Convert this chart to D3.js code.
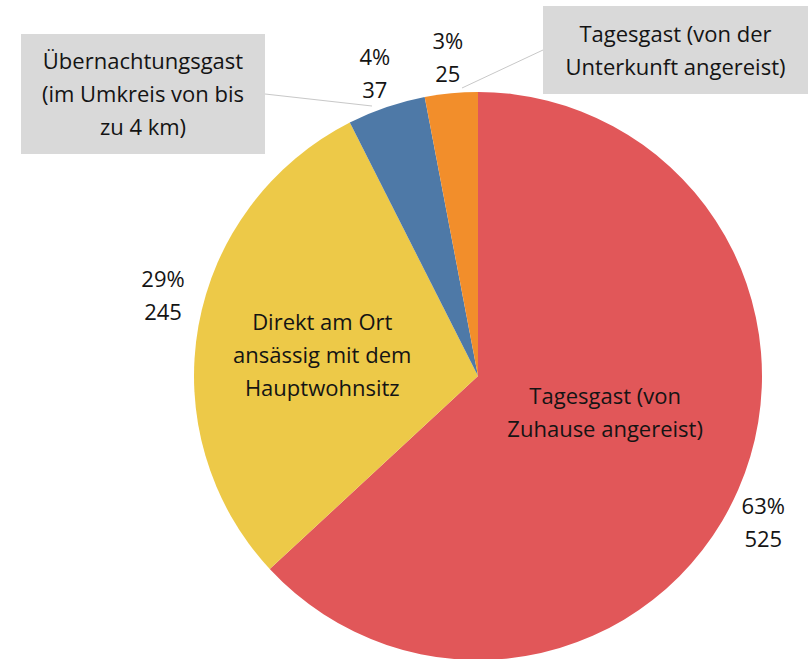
<!DOCTYPE html>
<html>
<head>
<meta charset="utf-8">
<script src="https://cdn.jsdelivr.net/npm/d3@7"></script>
<style>
  body { margin: 0; background: #fff; }
  text { font-family: "Open Sans", "Noto Sans", sans-serif; font-size: 22px; fill: #141414; }
</style>
</head>
<body>
<div id="chart"></div>
<script>
// slices, clockwise from 12 o'clock
const categories = [
  "Tagesgast (von Zuhause angereist)",
  "Direkt am Ort ansässig mit dem Hauptwohnsitz",
  "Übernachtungsgast (im Umkreis von bis zu 4 km)",
  "Tagesgast (von der Unterkunft angereist)"
];
const values = [525, 245, 37, 25];
const colors = ["#e15759", "#edc948", "#4e79a7", "#f28e2b"];
// how the category name is broken into lines
const nameLines = [
  ["Tagesgast (von", "Zuhause angereist)"],
  ["Direkt am Ort", "ansässig mit dem", "Hauptwohnsitz"],
  ["Übernachtungsgast", "(im Umkreis von bis", "zu 4 km)"],
  ["Tagesgast (von der", "Unterkunft angereist)"]
];

const width = 808, height = 659;
const cx = 478, cy = 376, radius = 284;
const lineH = 33;

const svg = d3.select("#chart").append("svg")
    .attr("width", width)
    .attr("height", height);

const total = d3.sum(values);
const pie = d3.pie().sort(null).value(d => d);
const arcs = pie(values);

const arc = d3.arc().innerRadius(0).outerRadius(radius);
const innerArc = d3.arc().innerRadius(radius * 0.5).outerRadius(radius * 0.5);
const outerArc = d3.arc().innerRadius(radius + 36).outerRadius(radius + 36);

const g = svg.append("g").attr("transform", `translate(${cx},${cy})`);

g.selectAll("path.slice")
  .data(arcs)
  .enter()
  .append("path")
  .attr("class", "slice")
  .attr("d", arc)
  .attr("fill", (d, i) => colors[i]);

// percent + count outside
const pct = d3.format(".0%");
// small nudges like tableau does
const nudge = [[-8, 18], [0, -24], [0, 0], [0, 0]];
arcs.forEach((d, i) => {
  const [x, y] = outerArc.centroid(d);
  const t = g.append("text")
    .attr("text-anchor", "middle")
    .attr("y", y + nudge[i][1] - lineH / 2 + 8);
  t.append("tspan").attr("x", x + nudge[i][0]).text(pct(values[i] / total));
  t.append("tspan").attr("x", x + nudge[i][0]).attr("dy", lineH).text(values[i]);
});

// names inside the two big slices
const innerNudge = [[-3, -20], [-16, 4]];
[0, 1].forEach(i => {
  let [x, y] = innerArc.centroid(arcs[i]);
  x += innerNudge[i][0];
  y += innerNudge[i][1];
  const lines = nameLines[i];
  const t = g.append("text")
    .attr("text-anchor", "middle")
    .attr("y", y - (lines.length - 1) * lineH / 2 + 8);
  lines.forEach((s, k) => {
    t.append("tspan").attr("x", x).attr("dy", k ? lineH : 0).text(s);
  });
});

// grey callout boxes for the small ones
const boxes = [
  { i: 2, x: 21, y: 34, w: 244, h: 120, lx: 372, ly: 106, ax: 265, ay: 94 },
  { i: 3, x: 543, y: 6, w: 270, h: 88, lx: 462, ly: 88, ax: 543, ay: 50 }
];
boxes.forEach(b => {
  svg.append("line")
    .attr("x1", b.ax).attr("y1", b.ay)
    .attr("x2", b.lx).attr("y2", b.ly)
    .attr("stroke", "#c8c8c8")
    .attr("stroke-width", 1);
  svg.append("rect")
    .attr("x", b.x).attr("y", b.y)
    .attr("width", b.w).attr("height", b.h)
    .attr("fill", "#d9d9d9");
  const lines = nameLines[b.i];
  const midX = b.x + Math.min(b.w, width - b.x) / 2;
  const t = svg.append("text")
    .attr("text-anchor", "middle")
    .attr("y", b.y + b.h / 2 - (lines.length - 1) * lineH / 2 + 8);
  lines.forEach((s, k) => {
    t.append("tspan").attr("x", midX).attr("dy", k ? lineH : 0).text(s);
  });
});
</script>
</body>
</html>
